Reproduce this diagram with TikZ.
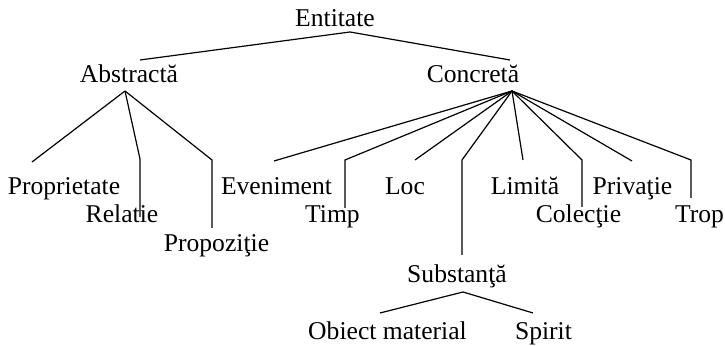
\documentclass[tikz,border=0pt]{standalone}
\usepackage{fontspec}
\setmainfont{Liberation Serif}
\tikzset{
    % text of every concept in the tree
    concept/.style={
        inner sep=0pt,
        anchor=base,
        font=\fontsize{12.8pt}{15pt}\selectfont
    },
    % the lines of the tree
    branch/.style={
        draw=black,
        line width=0.6pt
    }
}

\begin{document}
\begin{tikzpicture}[x=0.5pt, y=-0.5pt]
    \useasboundingbox (0,0) rectangle (725,346);

    % --- LEVEL 0 ---
    \node[concept] (entitate) at (335,27) {Entitate};

    % --- LEVEL 1 ---
    \node[concept] (abstracta) at (129,83) {Abstractă};
    \node[concept] (concreta) at (473,83) {Concretă};

    % --- LEVEL 2 (ABSTRACT) ---
    \node[concept] (proprietate) at (64,195) {Proprietate};
    \node[concept] (relatie) at (122,223) {Relatie};
    \node[concept] (propozitie) at (216.5,252) {Propoziţie};

    % --- LEVEL 2 (CONCRETE) ---
    \node[concept] (eveniment) at (276.5,195) {Eveniment};
    \node[concept] (timp) at (332.5,223) {Timp};
    \node[concept] (loc) at (405,195) {Loc};
    \node[concept] (limita) at (525,195) {Limită};
    \node[concept] (colectie) at (578.5,223) {Colecţie};
    \node[concept] (privatie) at (632.5,195) {Privaţie};
    \node[concept] (trop) at (699.5,223) {Trop};
    \node[concept] (substanta) at (457,283) {Substanţă};

    % --- LEVEL 3 ---
    \node[concept] (obiect) at (387.5,340) {Obiect material};
    \node[concept] (spirit) at (543.5,340) {Spirit};

    % --- JUNCTIONS ---
    \coordinate (entitate-j) at (350,32);
    \coordinate (abstracta-t) at (140,60);
    \coordinate (concreta-t) at (510,60);
    \coordinate (abstracta-j) at (125,91);
    \coordinate (concreta-j) at (512,91);
    \coordinate (substanta-j) at (463,292);

    % --- ENDS ABOVE THE CHILDREN ---
    \coordinate (proprietate-t) at (32,162);
    \coordinate (relatie-k) at (140,159);
    \coordinate (relatie-t) at (140,217);
    \coordinate (propozitie-k) at (212,160);
    \coordinate (propozitie-t) at (212,228);
    \coordinate (eveniment-t) at (274,161);
    \coordinate (timp-k) at (345,160);
    \coordinate (timp-t) at (345,208);
    \coordinate (loc-t) at (415,160);
    \coordinate (substanta-k) at (462,160);
    \coordinate (substanta-t) at (462,255);
    \coordinate (limita-t) at (523,160);
    \coordinate (colectie-k) at (582,160);
    \coordinate (colectie-t) at (582,207);
    \coordinate (privatie-t) at (632,161);
    \coordinate (trop-k) at (691,160);
    \coordinate (trop-t) at (691,198);
    \coordinate (obiect-t) at (380,313);
    \coordinate (spirit-t) at (533,313);

    % --- BRANCHES ---
    \draw[branch] (abstracta-t) -- (entitate-j) -- (concreta-t);

    % Abstract
    \draw[branch] (abstracta-j) -- (proprietate-t);
    \draw[branch] (abstracta-j) -- (relatie-k) -- (relatie-t);
    \draw[branch] (abstracta-j) -- (propozitie-k) -- (propozitie-t);

    % Concrete
    \draw[branch] (concreta-j) -- (eveniment-t);
    \draw[branch] (concreta-j) -- (timp-k) -- (timp-t);
    \draw[branch] (concreta-j) -- (loc-t);
    \draw[branch] (concreta-j) -- (substanta-k) -- (substanta-t);
    \draw[branch] (concreta-j) -- (limita-t);
    \draw[branch] (concreta-j) -- (colectie-k) -- (colectie-t);
    \draw[branch] (concreta-j) -- (privatie-t);
    \draw[branch] (concreta-j) -- (trop-k) -- (trop-t);

    % Substance
    \draw[branch] (obiect-t) -- (substanta-j) -- (spirit-t);

\end{tikzpicture}
\end{document}
